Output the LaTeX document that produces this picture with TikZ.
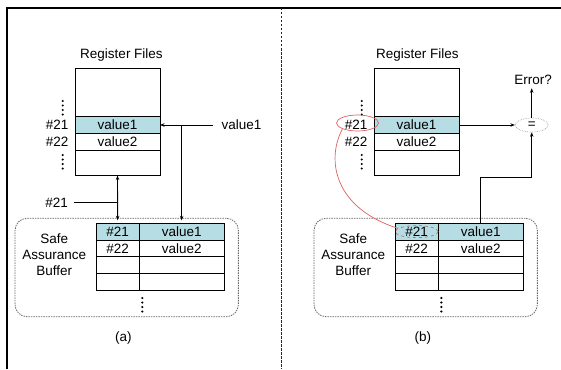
\documentclass[tikz,border=0pt]{standalone}
\usepackage{fontspec}
\setmainfont{Liberation Sans}
\usetikzlibrary{positioning, arrows.meta, shapes.geometric}
\definecolor{hlblue}{RGB}{183,221,228}
\definecolor{redc}{RGB}{225,95,95}

\begin{document}
\begin{tikzpicture}
[->/.style={line width=0.9pt,arrows={-Stealth[length=4.5pt,width=3.5pt]}},
<->/.style={line width=0.9pt,arrows={Stealth[length=4.5pt,width=3.5pt]-Stealth[length=4.5pt,width=3.5pt]}},
   regF/.style={shape=rectangle, draw, line width=1pt, minimum width=85pt, minimum height=106.7pt},
   regrow/.style={shape=rectangle, draw, line width=1pt, outer sep=0pt, inner sep=0pt,
     minimum width=85pt, minimum height=16.7pt},
   keyC/.style={regrow, minimum width=43.3pt},
   valC/.style={regrow, minimum width=84.7pt},
   sab/.style={shape=rectangle, rounded corners=12pt, draw=gray!80!black, line width=0.8pt,
     dash pattern=on 1.5pt off 1pt, minimum width=223.3pt, minimum height=98.4pt},
   ring/.style={shape=ellipse, draw=redc, line width=0.7pt, inner sep=0pt},
   eqN/.style={shape=ellipse, draw=gray!70, densely dotted, line width=0.7pt, inner sep=0pt,
     minimum width=33pt, minimum height=14pt},
   dotline/.style={line width=2.4pt, line cap=round, dash pattern=on 0pt off 4.5pt},
   x=1pt, y=-1pt, font=\fontsize{13.5}{16}\selectfont]
\useasboundingbox (0,0) rectangle (561,369);
\draw [line width=1.2pt] (7,369) -- (7,8) -- (561,8);
\draw [black!85, line width=1pt, dash pattern=on 2.5pt off 1.5pt] (281,8) -- (281,369);
%% (a)
\node[regF] (RFa) at (117.5,121.7) {};
\node (RFta) at (121.5,55) {Register Files};
\node[regrow, fill=hlblue] (R21a) at (117.5,125) {value1};
\node[regrow] (R22a) [below=0pt of R21a] {value2};
\node (L21a) [left=3pt of R21a] {\#21};
\node (L22a) [left=3pt of R22a] {\#22};
\draw [dotline] (62.7,101) -- (62.7,115);
\draw [dotline] (62.7,155) -- (62.7,169);
\node[sab] (SABa) at (126.7,267.5) {};
\node (SBTa) [align=center] at (54.3,254.5) {Safe\\Assurance\\Buffer};
\node[keyC, fill=hlblue] (S1ka) at (117.65,231.65) {\#21};
\node[keyC] (S2ka) [below=0pt of S1ka] {\#22};
\node[keyC] (S3ka) [below=0pt of S2ka] {};
\node[keyC] (S4ka) [below=0pt of S3ka] {};
\node[valC, fill=hlblue] (S1va) [right=0pt of S1ka] {value1};
\node[valC] (S2va) [right=0pt of S2ka] {value2};
\node[valC] (S3va) [right=0pt of S3ka] {};
\node[valC] (S4va) [right=0pt of S4ka] {};
\draw [dotline] (142.3,298) -- (142.3,315);
\node (capa) at (123.3,338) {(a)};
\node (V1a) [right=58pt of R21a] {value1};
\draw [->, shorten <=5pt] (V1a) -- (R21a);
\draw [->, shorten >=3pt] (S1va.north |- R21a.east) -- (S1va.north);
\draw [<->, shorten >=3pt] (RFa.south) -- (S1ka.north);
\node (K21a) at (56.7,202.7) {\#21};
\draw [line width=0.9pt, shorten <=3pt] (K21a) -- (K21a -| RFa.south);
%% (b)
\node[regF] (RFb) at (416.5,121.7) {};
\node (RFtb) at (417.3,55) {Register Files};
\node[regrow, fill=hlblue] (R21b) at (416.5,125) {value1};
\node[regrow] (R22b) [below=0pt of R21b] {value2};
\node (L21b) [left=3pt of R21b] {\#21};
\node (L22b) [left=3pt of R22b] {\#22};
\draw [dotline] (361.7,101) -- (361.7,115);
\draw [dotline] (361.7,155) -- (361.7,169);
\node[sab] (SABb) at (425.7,267.5) {};
\node (SBTb) [align=center] at (353.3,254.5) {Safe\\Assurance\\Buffer};
\node[keyC, fill=hlblue] (S1kb) at (416.65,231.65) {\#21};
\node[keyC] (S2kb) [below=0pt of S1kb] {\#22};
\node[keyC] (S3kb) [below=0pt of S2kb] {};
\node[keyC] (S4kb) [below=0pt of S3kb] {};
\node[valC, fill=hlblue] (S1vb) [right=0pt of S1kb] {value1};
\node[valC] (S2vb) [right=0pt of S2kb] {value2};
\node[valC] (S3vb) [right=0pt of S3kb] {};
\node[valC] (S4vb) [right=0pt of S4kb] {};
\draw [dotline] (441.3,298) -- (441.3,315);
\node (capb) at (422.8,338) {(b)};
\node[ring, minimum width=42pt, minimum height=16pt] (E21r) at (357.5,123) {};
\node[ring, dashed, minimum width=43pt, minimum height=12pt] (E21t) at (S1kb) {};
\draw [redc, line width=0.7pt] (E21r.south west) .. controls (326,160) and (334,208) .. (E21t.170);
\node[eqN] (Eq) at (531.7,125) {=};
\node (Err) at (533,80) {Error?};
\draw [->] (R21b) -- (Eq);
\draw [->] (Eq.north) -- (Eq.north |- Err.south);
\coordinate (Bend) at (481.7,177);
\draw [->] (S1vb.north) |- (Eq.south |- Bend) -- (Eq.south);
\end{tikzpicture}
\end{document}
